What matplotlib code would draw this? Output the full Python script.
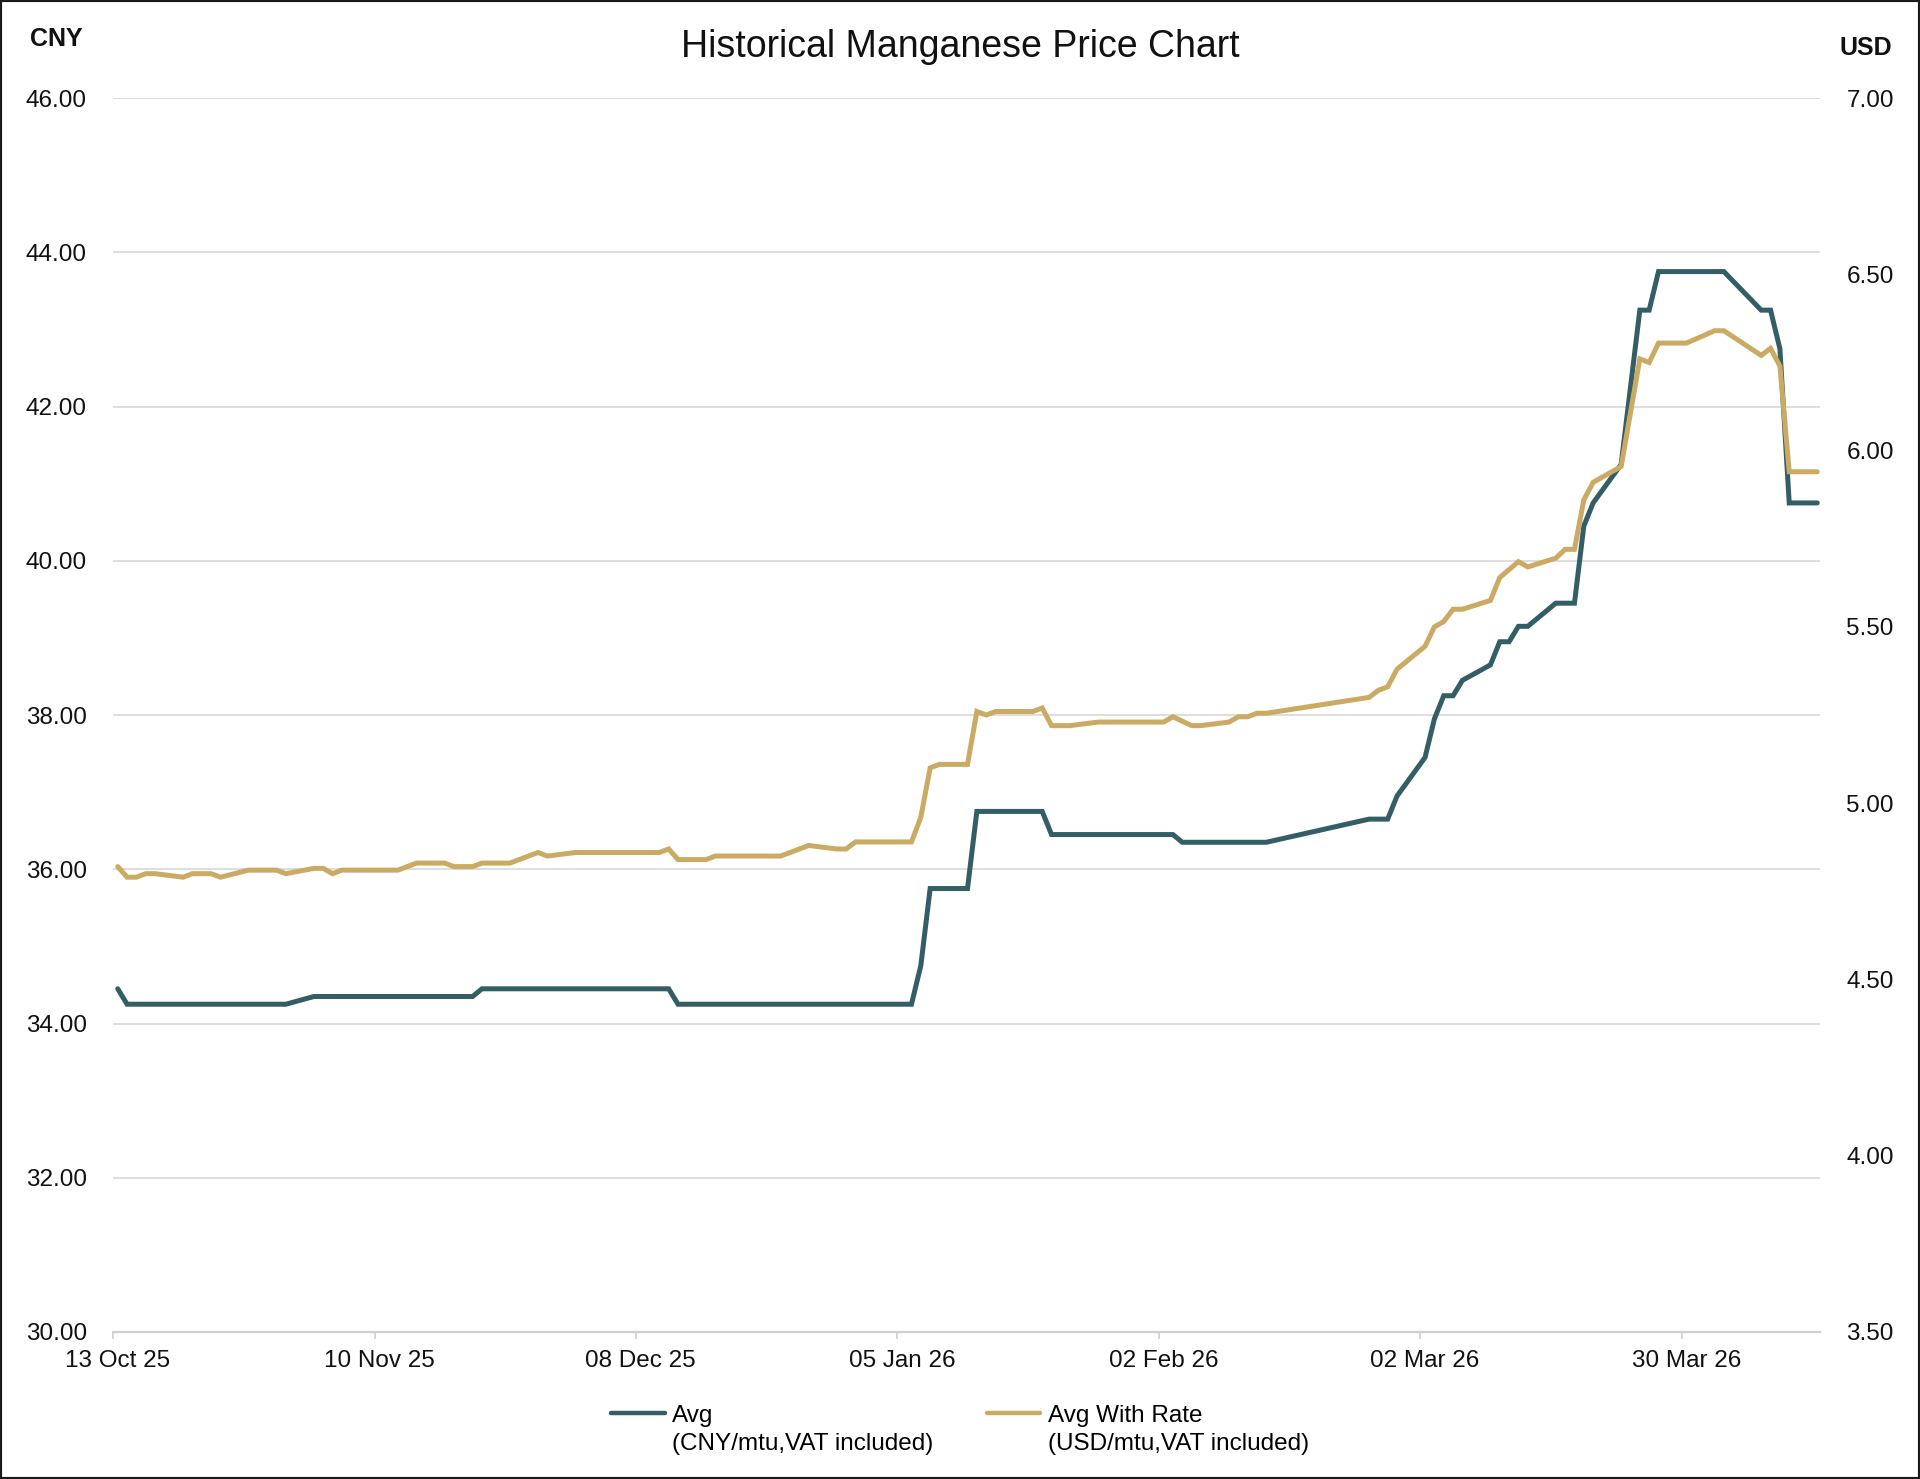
"""
Historical manganese price chart: CNY average (left axis) and
USD average with rate (right axis).
"""

import numpy as np
import pandas as pd
import matplotlib
matplotlib.use("Agg")
import matplotlib.pyplot as plt
import matplotlib.dates as mdates
from matplotlib.patches import Rectangle
from matplotlib.transforms import ScaledTranslation
from matplotlib.legend_handler import HandlerLine2D

plt.rcParams['font.family'] = ['Liberation Sans', 'DejaVu Sans']

# --- data --------------------------------------------------------------
avg_dates = [
    '2025-10-13', '2025-10-14', '2025-10-31', '2025-11-03', '2025-11-20',
    '2025-11-21', '2025-12-11', '2025-12-12', '2026-01-06', '2026-01-07',
    '2026-01-08', '2026-01-12', '2026-01-13', '2026-01-20', '2026-01-21',
    '2026-02-03', '2026-02-04', '2026-02-13', '2026-02-24', '2026-02-26',
    '2026-02-27', '2026-03-02', '2026-03-03', '2026-03-04', '2026-03-05',
    '2026-03-06', '2026-03-09', '2026-03-10', '2026-03-11', '2026-03-12',
    '2026-03-13', '2026-03-16', '2026-03-18', '2026-03-19', '2026-03-20',
    '2026-03-23', '2026-03-24', '2026-03-25', '2026-03-26', '2026-03-27',
    '2026-04-03', '2026-04-07', '2026-04-08', '2026-04-09', '2026-04-10',
    '2026-04-13',
]
avg_cny = [
    34.45, 34.25, 34.25, 34.35, 34.35,
    34.45, 34.45, 34.25, 34.25, 34.75,
    35.75, 35.75, 36.75, 36.75, 36.45,
    36.45, 36.35, 36.35, 36.65, 36.65,
    36.95, 37.45, 37.95, 38.25, 38.25,
    38.45, 38.65, 38.95, 38.95, 39.15,
    39.15, 39.45, 39.45, 40.45, 40.75,
    41.25, 42.25, 43.25, 43.25, 43.75,
    43.75, 43.25, 43.25, 42.75, 40.75,
    40.75,
]

rate_dates = [
    '2025-10-13', '2025-10-14', '2025-10-15', '2025-10-16', '2025-10-17',
    '2025-10-20', '2025-10-21', '2025-10-23', '2025-10-24', '2025-10-27',
    '2025-10-30', '2025-10-31', '2025-11-03', '2025-11-04', '2025-11-05',
    '2025-11-06', '2025-11-12', '2025-11-14', '2025-11-17', '2025-11-18',
    '2025-11-20', '2025-11-21', '2025-11-24', '2025-11-27', '2025-11-28',
    '2025-12-01', '2025-12-10', '2025-12-11', '2025-12-12', '2025-12-15',
    '2025-12-16', '2025-12-23', '2025-12-26', '2025-12-29', '2025-12-30',
    '2025-12-31', '2026-01-06', '2026-01-07', '2026-01-08', '2026-01-09',
    '2026-01-12', '2026-01-13', '2026-01-14', '2026-01-15', '2026-01-19',
    '2026-01-20', '2026-01-21', '2026-01-23', '2026-01-26', '2026-02-02',
    '2026-02-03', '2026-02-05', '2026-02-06', '2026-02-09', '2026-02-10',
    '2026-02-11', '2026-02-12', '2026-02-13', '2026-02-24', '2026-02-25',
    '2026-02-26', '2026-02-27', '2026-03-02', '2026-03-03', '2026-03-04',
    '2026-03-05', '2026-03-06', '2026-03-09', '2026-03-10', '2026-03-12',
    '2026-03-13', '2026-03-16', '2026-03-17', '2026-03-18', '2026-03-19',
    '2026-03-20', '2026-03-23', '2026-03-25', '2026-03-26', '2026-03-27',
    '2026-03-30', '2026-04-02', '2026-04-03', '2026-04-07', '2026-04-08',
    '2026-04-09', '2026-04-10', '2026-04-13',
]
rate_usd = [
    4.82, 4.79, 4.79, 4.80, 4.80,
    4.79, 4.80, 4.80, 4.79, 4.81,
    4.81, 4.80, 4.815, 4.815, 4.80,
    4.81, 4.81, 4.83, 4.83, 4.82,
    4.82, 4.83, 4.83, 4.86, 4.85,
    4.86, 4.86, 4.87, 4.84, 4.84,
    4.85, 4.85, 4.88, 4.87, 4.87,
    4.89, 4.89, 4.96, 5.10, 5.11,
    5.11, 5.26, 5.25, 5.26, 5.26,
    5.27, 5.22, 5.22, 5.23, 5.23,
    5.245, 5.22, 5.22, 5.23, 5.245,
    5.245, 5.255, 5.255, 5.30, 5.32,
    5.33, 5.38, 5.445, 5.50, 5.515,
    5.55, 5.55, 5.575, 5.64, 5.685,
    5.67, 5.695, 5.72, 5.72, 5.86,
    5.91, 5.955, 6.26, 6.25, 6.305,
    6.305, 6.34, 6.34, 6.27, 6.29,
    6.24, 5.94, 5.94,
]

x_ticks = ['2025-10-13', '2025-11-10', '2025-12-08', '2026-01-05',
           '2026-02-02', '2026-03-02', '2026-03-30']
cny_ticks = np.arange(30, 46.01, 2)
usd_ticks = np.arange(3.5, 7.01, 0.5)

TEAL = '#345e65'
GOLD = '#cbab63'
FS = 17.5

# prices are plotted at midday, ticks sit at midnight
avg_x = pd.to_datetime(avg_dates) + pd.Timedelta(hours=12)
rate_x = pd.to_datetime(rate_dates) + pd.Timedelta(hours=12)


class RaisedLine(HandlerLine2D):
    """Legend line drawn level with the first line of a two-line label."""

    def create_artists(self, legend, orig_handle, xdescent, ydescent,
                       width, height, fontsize, trans):
        artists = super().create_artists(legend, orig_handle, xdescent,
                                         ydescent, width, height, fontsize,
                                         trans)
        for a in artists:
            a.set_ydata(np.asarray(a.get_ydata()) + 0.7 * fontsize)
            a.set_linewidth(3.2)
        return artists


fig = plt.figure(figsize=(19.2, 14.79), dpi=100)
ax = fig.add_axes([0.0589, 0.0994, 0.889, 0.8343])
ax2 = ax.twinx()

line_avg, = ax.plot(avg_x, avg_cny, color=TEAL, lw=3.6,
                    solid_joinstyle='miter', solid_capstyle='round')
line_rate, = ax2.plot(rate_x, rate_usd, color=GOLD, lw=3.6,
                      solid_joinstyle='miter', solid_capstyle='round')

ax.set_ylim(30, 46)
ax2.set_ylim(3.5, 7)
ax.set_xlim(pd.Timestamp('2025-10-13'), pd.Timestamp('2026-04-13 19:00'))

ax.set_yticks(cny_ticks)
ax.set_yticklabels([f'{v:.2f}' for v in cny_ticks])
ax2.set_yticks(usd_ticks)
ax2.set_yticklabels([f'{v:.2f}' for v in usd_ticks])
ax.set_xticks(pd.to_datetime(x_ticks))
ax.xaxis.set_major_formatter(mdates.DateFormatter('%d %b %y'))

ax.yaxis.grid(True, color='#dedede', lw=1.4)
ax.set_axisbelow(True)

for a in (ax, ax2):
    for side in ('top', 'left', 'right'):
        a.spines[side].set_visible(False)
ax2.spines['bottom'].set_visible(False)
ax.spines['bottom'].set_color('#cfcfcf')
ax.spines['bottom'].set_linewidth(1.6)

ax.tick_params(axis='y', length=0, pad=19, labelsize=FS, labelcolor='#111111')
ax2.tick_params(axis='y', length=0, pad=19, labelsize=FS, labelcolor='#111111')
ax.tick_params(axis='x', length=5, width=1.2, color='#cfcfcf', pad=8,
               labelsize=FS, labelcolor='#111111')
# date labels sit a little right of their tick marks
shift = ScaledTranslation(0.045, 0, fig.dpi_scale_trans)
for lab in ax.get_xticklabels():
    lab.set_transform(lab.get_transform() + shift)

fig.text(0.5, 0.968, 'Historical Manganese Price Chart', ha='center',
         va='center', fontsize=27, color='#111111')
fig.text(0.0292, 0.9735, 'CNY', ha='center', va='center', fontsize=18,
         fontweight='bold', color='#111111')
fig.text(0.9719, 0.9675, 'USD', ha='center', va='center', fontsize=18,
         fontweight='bold', color='#111111')

leg = fig.legend([line_avg, line_rate],
                 ['Avg\n(CNY/mtu,VAT included)',
                  'Avg With Rate\n(USD/mtu,VAT included)'],
                 loc='center', bbox_to_anchor=(0.5, 0.033), ncol=2,
                 frameon=False, fontsize=FS, handlelength=2.2,
                 handletextpad=0.3, columnspacing=2.2,
                 handler_map={matplotlib.lines.Line2D: RaisedLine()})
for t in leg.get_texts():
    t.set_linespacing(1.38)

# thin dark frame round the whole picture
fig.add_artist(Rectangle((0, 0), 1, 1, transform=fig.transFigure, fill=False,
                         edgecolor='#1a1a1a', lw=3))

fig.savefig('out.png', dpi=100)
